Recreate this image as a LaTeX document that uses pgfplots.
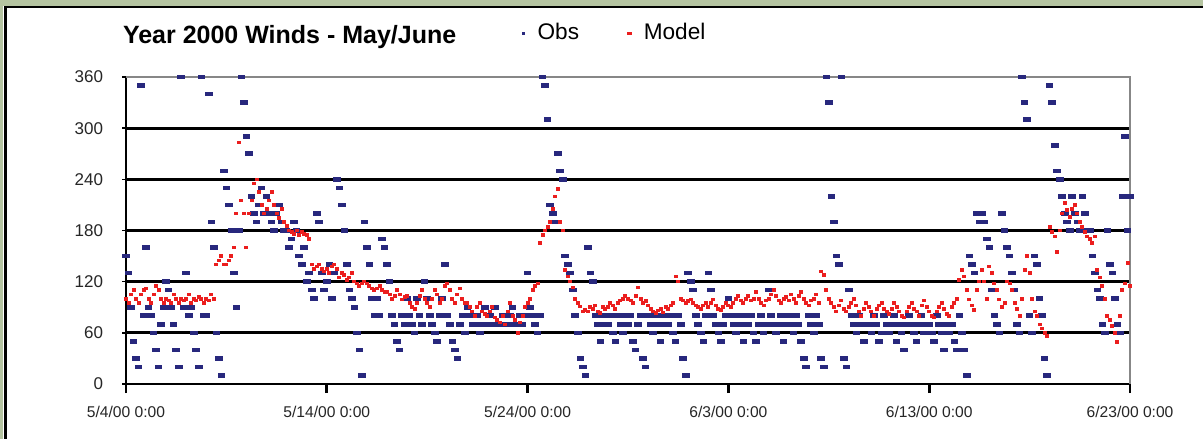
\documentclass[border=0pt]{standalone}
\usepackage{pgfplots}
\pgfplotsset{compat=1.18}
\usepackage{fontspec}
\setmainfont{Liberation Sans}
\definecolor{obsblue}{RGB}{40,40,125}
\definecolor{modred}{RGB}{235,30,30}
\definecolor{bggreen}{RGB}{181,196,161}
\definecolor{boxgray}{RGB}{135,135,135}
\pgfdeclareplotmark{hbar}{\pgfpathrectangle{\pgfpoint{-1.9pt}{-1.15pt}}{\pgfpoint{3.8pt}{2.3pt}}\pgfusepathqfill}
\pgfdeclareplotmark{rdot}{\pgfpathrectangle{\pgfpoint{-1pt}{-0.9pt}}{\pgfpoint{2pt}{1.8pt}}\pgfusepathqfill}
\pgfdeclareplotmark{legdot}{\pgfpathrectangle{\pgfpoint{-0.7pt}{-0.7pt}}{\pgfpoint{1.4pt}{1.4pt}}\pgfusepathqfill}
\pgfdeclareplotmark{legdash}{\pgfpathrectangle{\pgfpoint{-1.3pt}{-0.7pt}}{\pgfpoint{2.6pt}{1.4pt}}\pgfusepathqfill}
\begin{document}
\begin{tikzpicture}
\fill[bggreen] (0,0) rectangle (601.5pt,219.5pt);
\fill[white] (1.65pt,0) rectangle (601.5pt,216.5pt);
\fill[black] (1.8pt,0) rectangle (3.4pt,216.5pt);
\fill[black] (1.8pt,215.4pt) rectangle (601.5pt,216.6pt);
\begin{axis}[
 at={(63pt,27.5pt)}, anchor=south west,
 scale only axis, width=502pt, height=153.5pt,
 xmin=0, xmax=1200, ymin=0, ymax=360,
 axis x line*=bottom, axis y line*=left,
 axis line style={black, line width=1.4pt},
 xtick={0,240,...,1200},
 xticklabels={5/4/00 0:00,5/14/00 0:00,5/24/00 0:00,6/3/00 0:00,6/13/00 0:00,6/23/00 0:00},
 ytick={60,120,...,300},
 extra y ticks={0,360},
 extra y tick style={grid=none},
 ymajorgrids, major grid style={black, line width=1.4pt},
 tick align=outside,
 xtick style={black, line width=1.4pt, /pgfplots/major tick length=4.5pt},
 ytick style={black, line width=0.8pt, /pgfplots/major tick length=2pt},
 ticklabel style={font=\fontsize{8.5}{10}\selectfont, text=black!85},
 xticklabel style={font=\fontsize{7.8}{10}\selectfont},
 /pgf/number format/assume math mode=true,
 yticklabel style={inner sep=0pt, xshift=-7pt},
 xticklabel style={inner sep=0pt, yshift=-6.5pt},
 clip=false,
 title={Year 2000 Winds - May/June},
 title style={at={(0.163,1.09)}, anchor=center, font=\fontsize{12.5}{14}\selectfont\bfseries},
 legend columns=2,
 legend style={at={(0.39,1.143)}, anchor=west, draw=none, fill=none,
   font=\fontsize{11.3}{13}\selectfont, inner sep=0pt,
   /tikz/every even column/.append style={column sep=20.5pt}},
 legend image code/.code={\draw[#1] plot coordinates {(0.1cm,0cm)};\path[draw=none,fill=none] (0cm,0cm) rectangle (0.1cm+5pt,0.1pt);},
]
\draw[boxgray, line width=1.2pt] (axis cs:0,360) -- (axis cs:1200,360) -- (axis cs:1200,0);
\addplot[only marks, mark=hbar, color=obsblue, legend image post style={mark=legdot}] coordinates {
(0,150)(3,130)(6,90)(9,50)(12,30)(15,20)(18,350)(21,80)
(24,160)(27,90)(30,80)(33,60)(36,40)(39,20)(42,70)(45,90)
(48,120)(51,110)(54,90)(57,70)(60,40)(63,20)(66,360)(69,90)
(72,130)(75,80)(78,90)(81,60)(84,40)(87,20)(90,360)(93,80)
(96,80)(99,340)(102,190)(105,160)(108,60)(111,30)(114,10)(117,250)
(120,230)(123,210)(126,180)(129,130)(132,90)(135,180)(138,360)(141,330)
(144,290)(147,270)(150,220)(153,200)(156,190)(159,210)(162,230)(165,200)
(168,220)(171,200)(174,190)(177,180)(180,200)(183,210)(186,190)(189,180)
(192,180)(195,160)(198,170)(201,190)(204,180)(207,150)(210,140)(213,160)
(216,120)(219,130)(222,110)(225,100)(228,200)(231,190)(234,130)(237,110)
(240,120)(243,140)(246,100)(249,130)(252,240)(255,230)(258,210)(261,180)
(264,140)(267,110)(270,100)(273,90)(276,60)(279,40)(282,10)(285,190)
(288,160)(291,140)(294,100)(297,80)(300,100)(303,80)(306,170)(309,160)
(312,140)(315,120)(318,80)(321,70)(324,50)(327,40)(330,80)(333,70)
(336,100)(339,80)(342,70)(345,60)(348,100)(351,80)(354,70)(357,120)
(360,100)(363,80)(366,70)(369,60)(372,50)(375,80)(378,100)(381,140)
(384,80)(387,70)(390,50)(393,40)(396,30)(399,70)(402,80)(405,60)
(408,90)(411,80)(414,70)(417,70)(420,80)(423,60)(426,70)(429,90)
(432,70)(435,80)(438,70)(441,90)(444,70)(447,70)(450,80)(453,70)
(456,70)(459,80)(462,90)(465,70)(468,70)(471,80)(474,70)(477,80)
(480,130)(483,90)(486,80)(489,70)(492,60)(495,80)(498,360)(501,350)
(504,310)(507,210)(510,200)(513,190)(516,270)(519,250)(522,240)(525,150)
(528,140)(531,130)(534,110)(537,80)(540,60)(543,30)(546,20)(549,10)
(552,160)(555,130)(558,120)(561,80)(564,70)(567,50)(570,80)(573,70)
(576,70)(579,80)(582,60)(585,50)(588,80)(591,70)(594,60)(597,80)
(600,70)(603,80)(606,50)(609,40)(612,70)(615,80)(618,30)(621,20)
(624,80)(627,70)(630,60)(633,80)(636,70)(639,50)(642,80)(645,70)
(648,70)(651,80)(654,60)(657,50)(660,80)(663,70)(666,30)(669,10)
(672,130)(675,120)(678,110)(681,80)(684,70)(687,60)(690,50)(693,80)
(696,130)(699,110)(702,80)(705,70)(708,60)(711,50)(714,70)(717,80)
(720,100)(723,80)(726,70)(729,60)(732,80)(735,70)(738,50)(741,80)
(744,70)(747,80)(750,60)(753,50)(756,70)(759,80)(762,60)(765,70)
(768,110)(771,80)(774,70)(777,60)(780,70)(783,80)(786,50)(789,70)
(792,80)(795,70)(798,60)(801,80)(804,70)(807,50)(810,30)(813,20)
(816,80)(819,70)(822,60)(825,80)(828,70)(831,30)(834,20)(837,360)
(840,330)(843,220)(846,190)(849,150)(852,140)(855,360)(858,30)(861,20)
(864,110)(867,80)(870,70)(873,60)(876,80)(879,70)(882,50)(885,70)
(888,70)(891,60)(894,80)(897,70)(900,50)(903,60)(906,80)(909,70)
(912,60)(915,70)(918,80)(921,50)(924,70)(927,60)(930,40)(933,70)
(936,80)(939,70)(942,60)(945,50)(948,70)(951,80)(954,60)(957,70)
(960,70)(963,60)(966,50)(969,80)(972,70)(975,60)(978,40)(981,70)
(984,60)(987,70)(990,50)(993,40)(996,80)(999,60)(1002,40)(1005,10)
(1008,150)(1011,140)(1014,130)(1017,200)(1020,190)(1023,200)(1026,190)(1029,170)
(1032,160)(1035,110)(1038,80)(1041,70)(1044,60)(1047,200)(1050,180)(1053,160)
(1056,150)(1059,130)(1062,110)(1065,70)(1068,60)(1071,360)(1074,330)(1077,310)
(1080,80)(1083,60)(1086,150)(1089,140)(1092,100)(1095,80)(1098,30)(1101,10)
(1104,350)(1107,330)(1110,280)(1113,250)(1116,240)(1119,220)(1122,200)(1125,190)
(1128,180)(1131,220)(1134,200)(1137,190)(1140,180)(1143,220)(1146,200)(1149,180)
(1152,180)(1155,150)(1158,130)(1161,110)(1164,100)(1167,70)(1170,60)(1173,180)
(1176,140)(1179,130)(1182,100)(1185,70)(1188,60)(1191,220)(1194,290)(1197,180)
(1200,220)
};
\addlegendentry{Obs}
\addplot[only marks, mark=rdot, color=modred, legend image post style={mark=legdash}] coordinates {
(0,100)(3,95)(6,105)(9,110)(12,100)(15,95)(18,105)(21,110)
(24,112)(27,100)(30,95)(33,105)(36,115)(39,110)(42,100)(45,95)
(48,100)(51,98)(54,95)(57,105)(60,100)(63,95)(66,100)(69,98)
(72,100)(75,105)(78,95)(81,100)(84,98)(87,102)(90,100)(93,95)
(96,100)(99,98)(102,105)(105,100)(108,140)(111,145)(114,150)(117,140)
(120,140)(123,145)(126,150)(129,160)(132,200)(135,283)(138,215)(141,200)
(144,160)(147,200)(150,215)(153,235)(156,240)(159,225)(162,210)(165,200)
(168,205)(171,215)(174,225)(177,210)(180,200)(183,195)(186,205)(189,190)
(192,185)(195,180)(198,178)(201,176)(204,180)(207,175)(210,178)(213,176)
(216,175)(219,170)(222,140)(225,135)(228,138)(231,140)(234,135)(237,132)
(240,135)(243,130)(246,138)(249,140)(252,135)(255,125)(258,130)(261,128)
(264,122)(267,125)(270,130)(273,120)(276,118)(279,115)(282,118)(285,120)
(288,118)(291,115)(294,112)(297,110)(300,112)(303,115)(306,110)(309,108)
(312,108)(315,105)(318,100)(321,103)(324,110)(327,105)(330,99)(333,102)
(336,103)(339,95)(342,90)(345,88)(348,95)(351,103)(354,110)(357,100)
(360,95)(363,90)(366,100)(369,110)(372,105)(375,95)(378,100)(381,115)
(384,118)(387,110)(390,100)(393,95)(396,105)(399,112)(402,100)(405,95)
(408,95)(411,90)(414,85)(417,80)(420,90)(423,95)(426,85)(429,82)
(432,80)(435,85)(438,90)(441,78)(444,75)(447,72)(450,80)(453,70)
(456,85)(459,95)(462,80)(465,75)(468,60)(471,72)(474,80)(477,90)
(480,95)(483,100)(486,110)(489,115)(492,118)(495,165)(498,175)(501,180)
(504,184)(507,190)(510,205)(513,220)(516,229)(519,190)(522,180)(525,134)
(528,126)(531,120)(534,113)(537,100)(540,95)(543,91)(546,85)(549,87)
(552,85)(555,90)(558,88)(561,92)(564,85)(567,83)(570,90)(573,88)
(576,90)(579,95)(582,92)(585,88)(588,95)(591,98)(594,100)(597,103)
(600,100)(603,98)(606,95)(609,103)(612,113)(615,100)(618,95)(621,97)
(624,92)(627,88)(630,85)(633,83)(636,86)(639,88)(642,84)(645,90)
(648,88)(651,92)(654,95)(657,126)(660,120)(663,100)(666,98)(669,95)
(672,97)(675,99)(678,95)(681,92)(684,90)(687,88)(690,92)(693,95)
(696,90)(699,95)(702,99)(705,92)(708,88)(711,87)(714,90)(717,95)
(720,92)(723,90)(726,95)(729,100)(732,103)(735,98)(738,95)(741,100)
(744,103)(747,98)(750,100)(753,108)(756,100)(759,95)(762,92)(765,98)
(768,100)(771,105)(774,110)(777,103)(780,98)(783,95)(786,100)(789,102)
(792,98)(795,105)(798,100)(801,95)(804,103)(807,108)(810,100)(813,95)
(816,92)(819,98)(822,100)(825,105)(828,95)(831,132)(834,128)(837,110)
(840,100)(843,95)(846,90)(849,85)(852,92)(855,98)(858,88)(861,85)
(864,90)(867,95)(870,100)(873,92)(876,85)(879,80)(882,88)(885,95)
(888,90)(891,85)(894,80)(897,88)(900,92)(903,95)(906,88)(909,85)
(912,82)(915,88)(918,95)(921,90)(924,85)(927,80)(930,78)(933,85)
(936,90)(939,95)(942,88)(945,85)(948,80)(951,92)(954,98)(957,90)
(960,85)(963,80)(966,78)(969,85)(972,90)(975,95)(978,88)(981,82)
(984,80)(987,90)(990,95)(993,100)(996,122)(999,134)(1002,126)(1005,110)
(1008,99)(1011,92)(1014,87)(1017,110)(1020,120)(1023,134)(1026,120)(1029,100)
(1032,138)(1035,130)(1038,118)(1041,110)(1044,99)(1047,90)(1050,95)(1053,120)
(1056,118)(1059,110)(1062,95)(1065,88)(1068,80)(1071,100)(1074,134)(1077,150)
(1080,130)(1083,100)(1086,85)(1089,80)(1092,70)(1095,65)(1098,60)(1101,56)
(1104,184)(1107,178)(1110,173)(1113,155)(1116,180)(1119,200)(1122,212)(1125,204)
(1128,196)(1131,205)(1134,210)(1137,200)(1140,190)(1143,184)(1146,178)(1149,173)
(1152,170)(1155,165)(1158,173)(1161,134)(1164,125)(1167,115)(1170,100)(1173,80)
(1176,75)(1179,68)(1182,60)(1185,49)(1188,80)(1191,110)(1194,118)(1197,142)
(1200,115)
};
\addlegendentry{Model}
\end{axis}
\pgfresetboundingbox
\useasboundingbox (0,0) rectangle (601.5pt,219.5pt);
\end{tikzpicture}
\end{document}
